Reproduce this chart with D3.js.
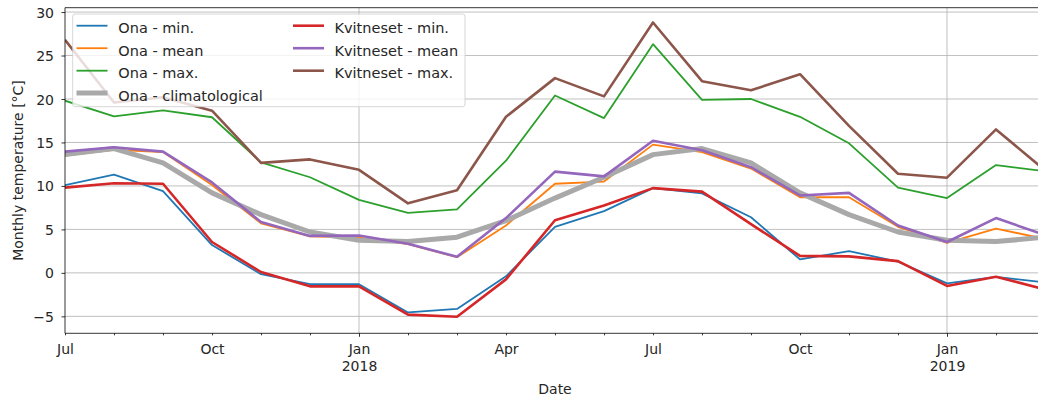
<!DOCTYPE html>
<html>
<head>
<meta charset="utf-8">
<script src="https://cdn.jsdelivr.net/npm/d3@7"></script>
<style>
  html, body { margin: 0; padding: 0; background: #fff; }
  svg { display: block; font-family: "DejaVu Sans", sans-serif; }
</style>
</head>
<body>
<svg id="chart" width="1038" height="400"></svg>
<script>
// ---- data ----
const months = ["2017-07","2017-08","2017-09","2017-10","2017-11","2017-12",
                "2018-01","2018-02","2018-03","2018-04","2018-05","2018-06",
                "2018-07","2018-08","2018-09","2018-10","2018-11","2018-12",
                "2019-01","2019-02","2019-03"];
const onaMin   = [10.1, 11.3, 9.4, 3.2, -0.15, -1.3, -1.3, -4.55, -4.15, -0.4, 5.3, 7.1, 9.75, 9.15, 6.4, 1.55, 2.5, 1.3, -1.2, -0.45, -1.1];
const onaMean  = [13.5, 14.15, 13.9, 10.1, 5.7, 4.2, 4.05, 3.3, 1.8, 5.45, 10.25, 10.5, 14.75, 13.9, 12.0, 8.7, 8.7, 5.3, 3.45, 5.1, 3.9];
const onaMax   = [19.8, 18.0, 18.7, 17.9, 12.7, 11.0, 8.4, 6.9, 7.3, 12.9, 20.4, 17.8, 26.3, 19.9, 20.0, 17.95, 14.9, 9.8, 8.6, 12.4, 11.7];
const onaClim  = [13.6, 14.3, 12.65, 9.2, 6.7, 4.7, 3.75, 3.6, 4.1, 6.0, 8.6, 11.0, 13.6, 14.3, 12.65, 9.2, 6.7, 4.7, 3.75, 3.6, 4.1];
const kvitMin  = [9.8, 10.3, 10.25, 3.55, 0.1, -1.55, -1.55, -4.8, -5.05, -0.75, 6.05, 7.75, 9.75, 9.35, 5.6, 1.95, 1.9, 1.35, -1.5, -0.45, -1.9];
const kvitMean = [13.95, 14.45, 13.95, 10.4, 5.85, 4.25, 4.3, 3.35, 1.85, 6.3, 11.65, 11.1, 15.2, 14.1, 12.15, 8.9, 9.2, 5.45, 3.55, 6.3, 4.35];
const kvitMax  = [26.8, 19.6, 20.2, 18.65, 12.65, 13.05, 11.85, 8.0, 9.5, 17.95, 22.4, 20.3, 28.8, 22.05, 21.0, 22.85, 16.9, 11.4, 10.95, 16.5, 11.8];
const yTicks = [-5, 0, 5, 10, 15, 20, 25, 30];
const monthLabels = {"01": "Jan", "04": "Apr", "07": "Jul", "10": "Oct"};
const seriesNames = ["Ona - min.", "Ona - mean", "Ona - max.", "Ona - climatological",
                     "Kvitneset - min.", "Kvitneset - mean", "Kvitneset - max."];

// ---- layout / styles ----
const series = [
  {name: seriesNames[0], values: onaMin,   color: "#1f77b4", width: 1.8},
  {name: seriesNames[1], values: onaMean,  color: "#ff7f0e", width: 1.8},
  {name: seriesNames[2], values: onaMax,   color: "#2ca02c", width: 1.8},
  {name: seriesNames[3], values: onaClim,  color: "#a9a9a9", width: 5},
  {name: seriesNames[4], values: kvitMin,  color: "#d62728", width: 2.6},
  {name: seriesNames[5], values: kvitMean, color: "#9467bd", width: 2.6},
  {name: seriesNames[6], values: kvitMax,  color: "#8c564b", width: 2.6}
];

const L = 65, R = 1045, T = 7.7, B = 333.3;
const FS = 14;
const LFS = 14.5;
const svg = d3.select("#chart");

const x = d3.scalePoint().domain(months).range([L, R]).padding(0);
const y = d3.scaleLinear().domain([-6.95, 30.5]).range([B, T]);

const clipId = "plotclip";
svg.append("defs").append("clipPath").attr("id", clipId)
  .append("rect").attr("x", L).attr("y", T).attr("width", R - L).attr("height", B - T);

// grid
const grid = svg.append("g");
grid.selectAll("line.h").data(yTicks).join("line")
  .attr("x1", L).attr("x2", R).attr("y1", d => y(d)).attr("y2", d => y(d))
  .attr("stroke", "#b0b0b0").attr("stroke-width", 0.8);
grid.selectAll("line.v").data(months.filter(m => m.endsWith("-01"))).join("line")
  .attr("x1", d => x(d)).attr("x2", d => x(d)).attr("y1", T).attr("y2", B)
  .attr("stroke", "#b0b0b0").attr("stroke-width", 0.8);

// lines
const line = vals => d3.line().x((d, i) => x(months[i])).y(d => y(d))(vals);
const plot = svg.append("g").attr("clip-path", `url(#${clipId})`);
series.forEach(s => {
  plot.append("path").attr("d", line(s.values)).attr("fill", "none")
    .attr("stroke", s.color).attr("stroke-width", s.width)
    .attr("stroke-linejoin", "round").attr("stroke-linecap", "butt");
});

// axes
const xAxis = d3.axisBottom(x).tickSize(2).tickFormat(m => monthLabels[m.slice(5)] || "");
const gx = svg.append("g").attr("transform", `translate(0,${B})`).call(xAxis);
gx.select(".domain").remove();
gx.selectAll(".tick line").attr("stroke", "#000").attr("stroke-width", 0.8)
  .attr("y2", d => d.endsWith("-01") ? 3.5 : 2);
gx.selectAll(".tick text").attr("font-size", FS).attr("fill", "#262626")
  .attr("font-family", "DejaVu Sans").attr("y", 20.4).attr("dy", null)
  .each(function(d) {
    if (d.endsWith("-01")) {
      const t = d3.select(this);
      t.text(null);
      t.append("tspan").attr("x", 0).text("Jan");
      t.append("tspan").attr("x", 0).attr("dy", 17.5).text(d.slice(0, 4));
    }
  });

const yAxis = d3.axisLeft(y).tickValues(yTicks).tickSize(3.5).tickPadding(7.5);
const gy = svg.append("g").attr("transform", `translate(${L},0)`).call(yAxis);
gy.select(".domain").remove();
gy.selectAll(".tick line").attr("stroke", "#000").attr("stroke-width", 0.8);
gy.selectAll(".tick text").attr("font-size", FS).attr("fill", "#262626")
  .attr("font-family", "DejaVu Sans").attr("dy", "0.36em");

// spines
svg.append("line").attr("x1", L).attr("x2", L).attr("y1", T).attr("y2", B)
  .attr("stroke", "#000").attr("stroke-width", 0.8);
svg.append("line").attr("x1", L).attr("x2", R).attr("y1", B).attr("y2", B)
  .attr("stroke", "#000").attr("stroke-width", 0.8);
svg.append("line").attr("x1", L).attr("x2", R).attr("y1", T).attr("y2", T)
  .attr("stroke", "#000").attr("stroke-width", 0.8);

// axis labels
svg.append("text").attr("x", (L + R) / 2).attr("y", 393.5).attr("text-anchor", "middle")
  .attr("font-size", FS).attr("fill", "#262626").text("Date");
svg.append("text").attr("transform", "translate(23,170.5) rotate(-90)")
  .attr("text-anchor", "middle").attr("font-size", FS).attr("fill", "#262626")
  .text("Monthly temperature [°C]");

// legend
const lg = svg.append("g");
lg.append("rect").attr("x", 72.7).attr("y", 14).attr("width", 392.3).attr("height", 92.7)
  .attr("rx", 2.5).attr("fill", "#fff").attr("fill-opacity", 0.8)
  .attr("stroke", "#cccccc").attr("stroke-width", 0.8);
const rowY = [25.7, 48.2, 70.7, 93.0];
series.forEach((s, i) => {
  const col = i < 4 ? 0 : 1;
  const row = i < 4 ? i : i - 4;
  const lx = col === 0 ? 76.5 : 293;
  const tx = col === 0 ? 118.3 : 334.5;
  const ly = rowY[row];
  lg.append("line").attr("x1", lx).attr("x2", lx + 31).attr("y1", ly).attr("y2", ly)
    .attr("stroke", s.color).attr("stroke-width", s.width);
  lg.append("text").attr("x", tx).attr("y", ly + 7.5).attr("font-size", LFS)
    .attr("fill", "#262626").text(s.name);
});
</script>
</body>
</html>
